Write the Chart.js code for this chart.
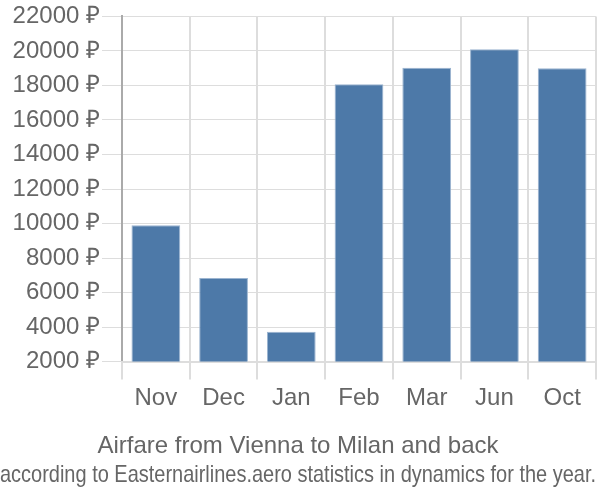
<!DOCTYPE html>
<html>
<head>
<meta charset="utf-8">
<script src="https://cdn.jsdelivr.net/npm/chart.js@4"></script>
<style>
    html, body { margin: 0; padding: 0; background: #fff; }
    #wrap { width: 600px; height: 500px; }
</style>
</head>
<body>
<div id="wrap"><canvas id="fareChart"></canvas></div>
<script>
// Chart data
const months = ['Nov', 'Dec', 'Jan', 'Feb', 'Mar', 'Jun', 'Oct'];
const fares = [9900, 6850, 3730, 18070, 19020, 20100, 19000];
const yTicks = [2000, 4000, 6000, 8000, 10000, 12000, 14000, 16000, 18000, 20000, 22000];

const font = "'Liberation Sans', Arial, sans-serif";

new Chart(document.getElementById('fareChart'), {
    type: 'bar',
    data: {
        labels: months,
        datasets: [{
            data: fares,
            backgroundColor: '#4d79a8',
            borderColor: '#9bb4d0',
            borderWidth: 1
        }]
    },
    options: {
        responsive: true,
        maintainAspectRatio: false,
        animation: false,
        layout: { padding: { left: 0, right: 4, top: 3, bottom: 0 } },
        scales: {
            y: {
                min: 2000,
                max: 22000,
                afterBuildTicks: axis => {
                    axis.ticks = yTicks.map(v => ({ value: v }));
                },
                afterFit: axis => { axis.width = 122; },
                ticks: {
                    color: '#666',
                    padding: 2,
                    font: { family: font, size: 24 },
                    callback: value => value + ' \u20BD'
                },
                grid: { color: '#dddddd', tickLength: 20, lineWidth: 1 },
                border: { color: '#aaaaaa', width: 2 }
            },
            x: {
                ticks: {
                    color: '#666',
                    padding: 4,
                    font: { family: font, size: 24 }
                },
                grid: { color: '#dddddd', offset: true, tickLength: 18, lineWidth: 2 },
                border: { color: '#dddddd', width: 2 }
            }
        },
        plugins: {
            legend: { display: false },
            tooltip: { enabled: false },
            // with position bottom the subtitle sits above the title
            subtitle: {
                display: true,
                position: 'bottom',
                text: 'Airfare from Vienna to Milan and back',
                color: '#666',
                font: { family: font, size: 24, weight: 'normal' },
                padding: { top: 16, bottom: 0 }
            },
            title: {
                display: true,
                position: 'bottom',
                text: 'according to Easternairlines.aero statistics in dynamics for the year.',
                color: '#666',
                font: { family: font, size: 24, weight: 'normal' },
                padding: { top: 0, bottom: 10 }
            }
        }
    }
});
</script>
</body>
</html>
